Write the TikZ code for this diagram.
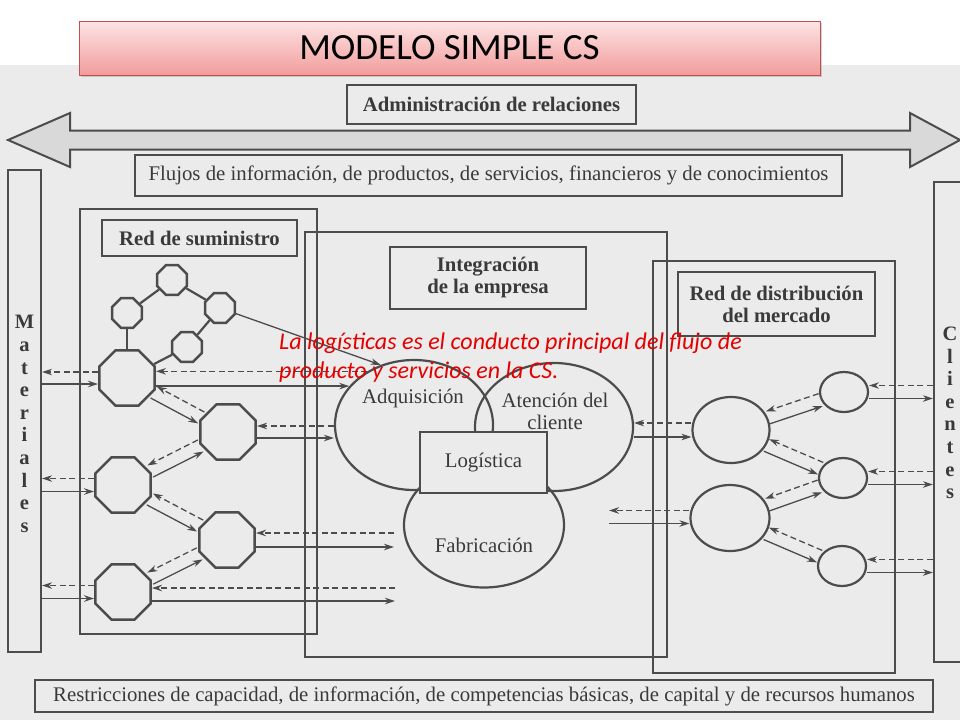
\documentclass[tikz,border=0pt]{standalone}
\usepackage{fontspec}
\setmainfont{Liberation Serif}
\newfontfamily\calibri{Carlito}
\usetikzlibrary{positioning}
\usetikzlibrary{shapes.geometric, arrows.meta, shadows}
\definecolor{ink}{HTML}{4C4C4C}
\definecolor{inktext}{HTML}{3A3A3A}
\definecolor{scan}{HTML}{EBEBEB}
\definecolor{stipple}{HTML}{D9D9D9}
\definecolor{pinktop}{HTML}{FDE4E4}
\definecolor{pinkbot}{HTML}{F29C9C}
\definecolor{pinkline}{HTML}{C0504D}

\begin{document}
\begin{tikzpicture}[x=1pt,y=-1pt,
  box/.style={draw=ink,line width=2.2pt,inner sep=0pt,text=inktext,align=center,font=\fontsize{20.8}{22}\selectfont},
  tag/.style={box,font=\fontsize{20.7}{22}\selectfont\bfseries},
  octo/.style={regular polygon,regular polygon sides=8,draw=ink,line width=2.5pt,inner sep=0pt,minimum size=#1},
  oval/.style={ellipse,draw=ink,line width=2.2pt,inner sep=0pt},
  word/.style={inner sep=0pt,text=inktext,align=center,font=\fontsize{20.8}{22}\selectfont},
  letters/.style={inner sep=0pt,text=inktext,align=center,font=\fontsize{20.5}{22.6}\selectfont\bfseries},
  link/.style={draw=ink,line width=2.2pt},
  fwd/.style={draw=ink,line width=1.3pt,-{Stealth[length=10pt,width=6.5pt]}},
  back/.style={fwd,dash pattern=on 6pt off 3.5pt},
  pair/.style={transform canvas={shift={#1}}}]
\useasboundingbox (0,0) rectangle (960,720);
\fill[scan] (0,65) rectangle (960,720);

\draw[ink,line width=2pt,fill=stipple] (8,140) -- (70,113) -- (70,130.5) -- (910,130.5) -- (910,113) -- (960,140) -- (910,167) -- (910,149.5) -- (70,149.5) -- (70,167) -- cycle;
\node[draw=pinkline,line width=0.8pt,top color=pinktop,bottom color=pinkbot,drop shadow={opacity=0.35},minimum width=741pt,minimum height=54pt,inner sep=0pt,font=\calibri\fontsize{37}{40}\selectfont] (title) at (449.5,48) {MODELO SIMPLE CS};
\node[tag,minimum width=289pt,minimum height=39pt] (admin) at (491.5,104.5) {Administración de relaciones};
\node[box,minimum width=707pt,minimum height=41pt] (flujos) at (488.5,175.5) {Flujos de información, de productos, de servicios, financieros y de conocimientos};

\draw[ink,line width=2.2pt] (80,209) rectangle (317,634);
\draw[ink,line width=2.2pt] (305,232) rectangle (667,657);
\draw[ink,line width=2.2pt] (653,261) rectangle (895,673);

\node[box,minimum width=33pt,minimum height=482pt] (mat) at (24.5,411) {};
\node[letters] (matT) at (24.5,424) {M\\a\\t\\e\\r\\i\\a\\l\\e\\s};
\node[box,minimum width=46pt,minimum height=480pt] (cli) at (957,422) {};
\node[letters] (cliT) at (950,413) {C\\l\\i\\e\\n\\t\\e\\s};

\node[tag,minimum width=195pt,minimum height=36pt] (supT) at (199.5,238) {Red de suministro};
\node[tag,minimum width=196pt,minimum height=62pt] (intT) at (488,278) {Integración\\de la empresa};
\node[tag,minimum width=197pt,minimum height=64pt] (disT) at (776.5,304) {Red de distribución\\del mercado};
\node[box,minimum width=898pt,minimum height=32pt] (restr) at (484,696) {Restricciones de capacidad, de información, de competencias básicas, de capital y de recursos humanos};

\node[octo=32pt] (oT) at (172,280) {};
\node[octo=32pt] (oL) at (127,313) {};
\node[octo=32pt] (oR) at (220,308) {};
\node[octo=32pt] (oB) at (187,347) {};
\node[octo=60pt] (o1) at (127,378) {};
\node[octo=60pt] (o2) at (228,432) {};
\node[octo=60pt] (o3) at (123,485) {};
\node[octo=60pt] (o4) at (227,540) {};
\node[octo=60pt] (o5) at (123,592) {};

\node[oval,minimum width=158pt,minimum height=130pt] (adq) at (414,425) {};
\node[oval,minimum width=158pt,minimum height=128pt] (ate) at (554,427) {};
\node[oval,minimum width=160pt,minimum height=125pt] (fab) at (484,525) {};
\node[box,fill=scan,minimum width=127pt,minimum height=61pt] (log) at (483.5,462.5) {Logística};
\node[word] (adqT) at (413,398) {Adquisición};
\node[word] (ateT) at (555,411) {Atención del\\cliente};
\node[word] (fabT) at (484,545) {Fabricación};

\node[oval,minimum width=77pt,minimum height=66pt] (e1) at (731,430) {};
\node[oval,minimum width=79pt,minimum height=66pt] (e2) at (730,518) {};
\node[oval,minimum width=48pt,minimum height=40pt] (s1) at (844,392) {};
\node[oval,minimum width=48pt,minimum height=40pt] (s2) at (843,478) {};
\node[oval,minimum width=48pt,minimum height=40pt] (s3) at (842,566) {};

\draw[link] (oL) -- (oT) -- (oR) -- (oB);
\draw[link] (oL) -- (o1);
\draw[link] (oB) -- (o1);
\draw[fwd] (oR) -- (adq.119);

\draw[back] ([yshift=6pt]o1.west) -- ([yshift=6pt]o1.west -| mat.east);
\draw[fwd] ([yshift=-6pt]o1.west -| mat.east) -- ([yshift=-6pt]o1.west);
\draw[back] ([yshift=6.5pt]o3.west) -- ([yshift=6.5pt]o3.west -| mat.east);
\draw[fwd] ([yshift=-6.5pt]o3.west -| mat.east) -- ([yshift=-6.5pt]o3.west);
\draw[back] ([yshift=6.5pt]o5.west) -- ([yshift=6.5pt]o5.west -| mat.east);
\draw[fwd] ([yshift=-6.5pt]o5.west -| mat.east) -- ([yshift=-6.5pt]o5.west);

\draw[back] (adq.131) -- (adq.131 -| o1.east);
\draw[fwd] (adq.149 -| o1.east) -- (adq.149);
\draw[back] ([yshift=6pt]o2.east -| adq.west) -- ([yshift=6pt]o2.east);
\draw[fwd] ([yshift=-6pt]o2.east) -- ([yshift=-6pt]o2.east -| adq.west);

\coordinate (m4) at (394,540);
\coordinate (m5) at (395,594.5);
\draw[back] ([yshift=7pt]m4) -- ([yshift=7pt]m4 -| o4.east);
\draw[fwd] ([yshift=-7pt]m4 -| o4.east) -- ([yshift=-7pt]m4);
\draw[back] ([yshift=6.5pt]m5) -- ([yshift=6.5pt]m5 -| o5.east);
\draw[fwd] ([yshift=-6.5pt]m5 -| o5.east) -- ([yshift=-6.5pt]m5);

\draw[fwd,pair={(-3.1,5.7)}] (o1) -- (o2);
\draw[back,pair={(3.1,-5.7)}] (o2) -- (o1);
\draw[fwd,pair={(2.9,5.8)}] (o3) -- (o2);
\draw[back,pair={(-2.9,-5.8)}] (o2) -- (o3);
\draw[fwd,pair={(-3.0,5.7)}] (o3) -- (o4);
\draw[back,pair={(3.0,-5.7)}] (o4) -- (o3);
\draw[fwd,pair={(2.9,5.8)}] (o5) -- (o4);
\draw[back,pair={(-2.9,-5.8)}] (o4) -- (o5);

\draw[back] ([yshift=7pt]e1.west) -- ([yshift=7pt]e1.west -| ate.east);
\draw[fwd] ([yshift=-7pt]e1.west -| ate.east) -- ([yshift=-7pt]e1.west);
\coordinate (m6) at (609,517);
\draw[back] ([yshift=6.5pt]m6 -| e2.west) -- ([yshift=6.5pt]m6);
\draw[fwd] ([yshift=-6.5pt]m6) -- ([yshift=-6.5pt]m6 -| e2.west);

\draw[fwd,pair={(2.1,6.2)}] (e1) -- (s1);
\draw[back,pair={(-2.1,-6.2)}] (s1) -- (e1);
\draw[fwd,pair={(-2.6,6.0)}] (e1) -- (s2);
\draw[back,pair={(2.6,-6.0)}] (s2) -- (e1);
\draw[fwd,pair={(2.2,6.1)}] (e2) -- (s2);
\draw[back,pair={(-2.2,-6.1)}] (s2) -- (e2);
\draw[fwd,pair={(-2.6,6.0)}] (e2) -- (s3);
\draw[back,pair={(2.6,-6.0)}] (s3) -- (e2);

\draw[back] ([yshift=6.5pt]s1.east -| cli.west) -- ([yshift=6.5pt]s1.east);
\draw[fwd] ([yshift=-6.5pt]s1.east) -- ([yshift=-6.5pt]s1.east -| cli.west);
\draw[back] ([yshift=6.5pt]s2.east -| cli.west) -- ([yshift=6.5pt]s2.east);
\draw[fwd] ([yshift=-6.5pt]s2.east) -- ([yshift=-6.5pt]s2.east -| cli.west);
\draw[back] ([yshift=6.5pt]s3.east -| cli.west) -- ([yshift=6.5pt]s3.east);
\draw[fwd] ([yshift=-6.5pt]s3.east) -- ([yshift=-6.5pt]s3.east -| cli.west);

\node[anchor=west,align=left,inner sep=0pt,text=red!90!black,font=\calibri\itshape\fontsize{24}{29}\selectfont] (note) at (279,357.5) {La logísticas es el conducto principal del flujo de\\producto y servicios en la CS.};

\end{tikzpicture}
\end{document}
